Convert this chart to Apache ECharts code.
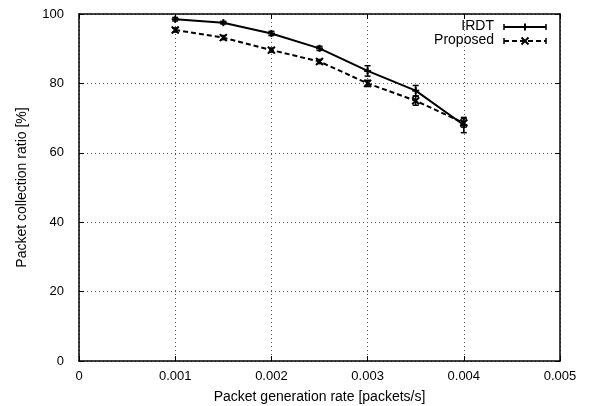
<!DOCTYPE html>
<html>
<head>
<meta charset="utf-8">
<script src="https://cdn.jsdelivr.net/npm/echarts@6/dist/echarts.min.js"></script>
<style>html,body{margin:0;padding:0;background:#fff}#c{width:596px;height:406px}</style>
</head>
<body>
<div id="c"></div>
<script>
var rates = [0.001, 0.0015, 0.002, 0.0025, 0.003, 0.0035, 0.004];
var irdtValues = [98.5, 97.5, 94.4, 90.1, 83.6, 77.9, 68.0];
var irdtErrors = [0.5, 0.4, 0.6, 0.6, 1.5, 1.5, 2.2];
var proposedValues = [95.4, 93.2, 89.6, 86.3, 80.0, 75.0, 68.6];
var proposedErrors = [0.6, 0.6, 0.6, 0.6, 0.9, 1.3, 1.2];
var xTicks = [0, 0.001, 0.002, 0.003, 0.004, 0.005];
var yTicks = [0, 20, 40, 60, 80, 100];
var seriesNames = ['IRDT', 'Proposed'];

var FONT = 'Liberation Sans, Arial, sans-serif';
var chart = echarts.init(document.getElementById('c'), null, {renderer: 'canvas'});

function pairs(vals) { return rates.map(function (r, i) { return [r, vals[i]]; }); }
function errData(vals, errs) { return rates.map(function (r, i) { return [r, vals[i] - errs[i], vals[i] + errs[i], vals[i]]; }); }

function errRender(markerType) {
  return function (params, api) {
    var x = api.value(0);
    var lo = api.coord([x, api.value(1)]);
    var hi = api.coord([x, api.value(2)]);
    var c = api.coord([x, api.value(3)]);
    var cap = 3, m = 3.5;
    var st = {stroke: '#000', lineWidth: 1.5};
    var children = [
      {type: 'line', shape: {x1: lo[0], y1: lo[1], x2: hi[0], y2: hi[1]}, style: st},
      {type: 'line', shape: {x1: lo[0] - cap, y1: lo[1], x2: lo[0] + cap, y2: lo[1]}, style: st},
      {type: 'line', shape: {x1: hi[0] - cap, y1: hi[1], x2: hi[0] + cap, y2: hi[1]}, style: st}
    ];
    var ms = {stroke: '#000', lineWidth: 2};
    if (markerType === 'plus') {
      children.push({type: 'line', shape: {x1: c[0] - m, y1: c[1], x2: c[0] + m, y2: c[1]}, style: ms});
      children.push({type: 'line', shape: {x1: c[0], y1: c[1] - m, x2: c[0], y2: c[1] + m}, style: ms});
    } else {
      children.push({type: 'line', shape: {x1: c[0] - m, y1: c[1] - m, x2: c[0] + m, y2: c[1] + m}, style: ms});
      children.push({type: 'line', shape: {x1: c[0] - m, y1: c[1] + m, x2: c[0] + m, y2: c[1] - m}, style: ms});
    }
    return {type: 'group', children: children};
  };
}

var splitStyle = {show: true, lineStyle: {color: '#555', type: [1, 3], width: 1}};

function legendItem(y, dashed, marker) {
  var x1 = 504, x2 = 546, xm = 525, m = 3.5;
  var st = {stroke: '#000', lineWidth: 2, lineDash: dashed ? [5, 3] : null};
  var items = [
    {type: 'line', shape: {x1: x1, y1: y, x2: x2, y2: y}, style: st},
    {type: 'line', shape: {x1: x1, y1: y - 3, x2: x1, y2: y + 3}, style: {stroke: '#000', lineWidth: 1.5}},
    {type: 'line', shape: {x1: x2, y1: y - 3, x2: x2, y2: y + 3}, style: {stroke: '#000', lineWidth: 1.5}}
  ];
  if (marker === 'plus') {
    items.push({type: 'line', shape: {x1: xm, y1: y - m, x2: xm, y2: y + m}, style: {stroke: '#000', lineWidth: 2}});
  } else {
    items.push({type: 'line', shape: {x1: xm - m, y1: y - m, x2: xm + m, y2: y + m}, style: {stroke: '#000', lineWidth: 2}});
    items.push({type: 'line', shape: {x1: xm - m, y1: y + m, x2: xm + m, y2: y - m}, style: {stroke: '#000', lineWidth: 2}});
  }
  return items;
}

var graphics = [
  {type: 'text', right: 596 - 494, top: 19, style: {text: seriesNames[0], font: '14px ' + FONT, fill: '#000', textAlign: 'right'}},
  {type: 'text', right: 596 - 494, top: 33, style: {text: seriesNames[1], font: '14px ' + FONT, fill: '#000', textAlign: 'right'}}
].concat(legendItem(27, false, 'plus'), legendItem(41, true, 'cross'));

var option = {
  animation: false,
  backgroundColor: '#fff',
  grid: {left: 79, right: 36, top: 14, bottom: 45, show: false, containLabel: false, outerBoundsMode: 'none'},
  xAxis: [{
    type: 'value', min: 0, max: 0.005, interval: 0.001,
    name: 'Packet generation rate [packets/s]', nameLocation: 'middle', nameGap: 29,
    nameTextStyle: {fontFamily: FONT, fontSize: 14, color: '#000'},
    axisLine: {show: true, onZero: false, lineStyle: {color: '#000', width: 1.5}},
    axisTick: {show: true, inside: true, length: 5, lineStyle: {color: '#000'}},
    axisLabel: {fontFamily: FONT, fontSize: 13, color: '#000', margin: 9,
      formatter: function (v) { return v === 0 ? '0' : v.toFixed(3); }},
    splitLine: splitStyle
  }, {
    type: 'value', min: 0, max: 0.005, interval: 0.001, position: 'top',
    axisLine: {show: true, onZero: false, lineStyle: {color: '#000', width: 1.5}},
    axisTick: {show: true, inside: true, length: 5, lineStyle: {color: '#000'}},
    axisLabel: {show: false}, splitLine: {show: false}
  }],
  yAxis: [{
    type: 'value', min: 0, max: 100, interval: 20,
    name: 'Packet collection ratio [%]', nameLocation: 'middle', nameGap: 50,
    nameTextStyle: {fontFamily: FONT, fontSize: 14, color: '#000'},
    axisLine: {show: true, onZero: false, lineStyle: {color: '#000', width: 1.5}},
    axisTick: {show: true, inside: true, length: 5, lineStyle: {color: '#000'}},
    axisLabel: {fontFamily: FONT, fontSize: 13, color: '#000', margin: 15},
    splitLine: splitStyle
  }, {
    type: 'value', min: 0, max: 100, interval: 20, position: 'right',
    axisLine: {show: true, onZero: false, lineStyle: {color: '#000', width: 1.5}},
    axisTick: {show: true, inside: true, length: 5, lineStyle: {color: '#000'}},
    axisLabel: {show: false}, splitLine: {show: false}
  }],
  series: [
    {name: seriesNames[0], type: 'line', data: pairs(irdtValues), showSymbol: false,
      lineStyle: {color: '#000', width: 2, type: 'solid'}, z: 3},
    {name: seriesNames[1], type: 'line', data: pairs(proposedValues), showSymbol: false,
      lineStyle: {color: '#000', width: 2, type: [5, 3]}, z: 3},
    {type: 'custom', data: errData(irdtValues, irdtErrors), renderItem: errRender('plus'),
      encode: {x: 0, y: [1, 2]}, z: 4},
    {type: 'custom', data: errData(proposedValues, proposedErrors), renderItem: errRender('cross'),
      encode: {x: 0, y: [1, 2]}, z: 4}
  ],
  graphic: graphics
};
chart.setOption(option);
</script>
</body>
</html>
